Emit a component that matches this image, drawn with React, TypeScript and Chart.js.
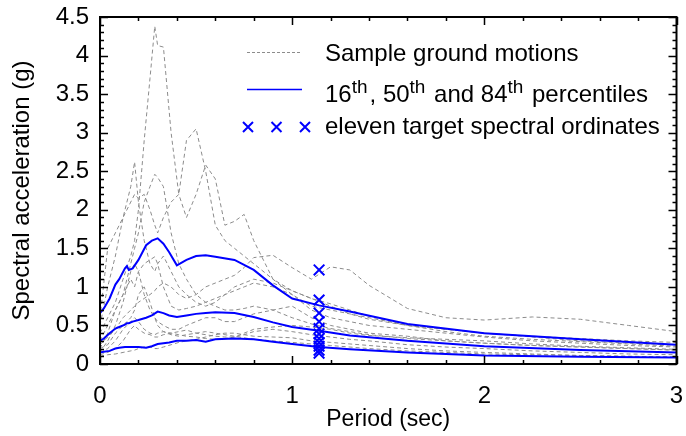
import { useEffect, useRef } from "react";
import { Chart, registerables } from "chart.js";

Chart.register(...registerables);

const FONT = "'Liberation Sans', Arial, Helvetica, sans-serif";

// Periods (sec) at which the sample ground-motion spectra are read
const PERIODS = [0, 0.04, 0.08, 0.12, 0.16, 0.18, 0.2, 0.23, 0.26, 0.285, 0.3, 0.33, 0.37, 0.41, 0.45, 0.5, 0.55, 0.6, 0.65, 0.7, 0.75, 0.8, 0.9, 1.0, 1.1, 1.2, 1.3, 1.4, 1.6, 1.8, 2.0, 2.25, 2.5, 2.75, 3.0];

// Sample ground motions (g)
const GM1 = [0.4, 0.6, 0.8, 1.1, 1.4, 1.6, 2.0, 2.9, 3.7, 4.38, 4.13, 4.11, 3.0, 2.2, 2.9, 3.05, 2.5, 1.8, 1.6, 1.5, 1.4, 1.3, 1.1, 0.9, 0.75, 0.7, 0.65, 0.6, 0.5, 0.42, 0.36, 0.32, 0.29, 0.26, 0.23];
const GM2 = [0.5, 1.0, 1.4, 1.9, 2.3, 2.62, 2.1, 1.6, 1.3, 1.2, 1.3, 1.4, 1.2, 1.0, 0.9, 0.8, 0.75, 0.8, 0.9, 1.0, 1.05, 1.1, 1.05, 0.95, 0.85, 0.75, 0.65, 0.58, 0.5, 0.45, 0.4, 0.35, 0.3, 0.27, 0.25];
const GM3 = [0.3, 0.5, 0.7, 0.9, 1.3, 1.5, 1.7, 2.1, 2.3, 2.46, 2.42, 2.3, 1.7, 1.3, 1.1, 0.9, 0.8, 0.75, 0.7, 0.7, 0.72, 0.75, 0.7, 0.6, 0.52, 0.46, 0.42, 0.38, 0.33, 0.3, 0.27, 0.24, 0.22, 0.2, 0.18];
const GM4 = [0.6, 1.5, 1.7, 1.9, 2.1, 2.2, 2.15, 2.2, 2.0, 1.8, 1.7, 1.9, 2.1, 2.2, 1.9, 2.2, 2.58, 2.4, 1.8, 1.85, 1.94, 1.6, 1.1, 0.95, 0.85, 0.78, 0.7, 0.62, 0.5, 0.45, 0.4, 0.36, 0.33, 0.3, 0.28];
const GM5 = [0.25, 0.35, 0.45, 0.6, 0.7, 0.75, 0.8, 0.85, 0.9, 0.95, 1.0, 1.05, 1.0, 0.9, 0.85, 0.9, 1.0, 1.05, 1.1, 1.15, 1.25, 1.38, 1.41, 1.25, 1.1, 1.26, 1.22, 1.02, 0.72, 0.6, 0.57, 0.61, 0.58, 0.5, 0.42];
const GM6 = [0.2, 0.4, 0.7, 0.9, 1.1, 1.0, 1.2, 1.3, 1.35, 1.39, 1.3, 1.0, 0.75, 0.7, 0.72, 0.75, 0.8, 0.85, 0.9, 0.95, 1.0, 1.05, 1.0, 0.9, 0.7, 0.6, 0.55, 0.5, 0.45, 0.4, 0.35, 0.3, 0.27, 0.24, 0.22];
const GM7 = [0.15, 0.3, 0.5, 0.8, 1.2, 1.3, 1.2, 0.9, 0.7, 0.6, 0.55, 0.5, 0.45, 0.45, 0.5, 0.55, 0.6, 0.6, 0.55, 0.55, 0.6, 0.65, 0.7, 0.75, 0.6, 0.5, 0.45, 0.4, 0.36, 0.3, 0.27, 0.24, 0.22, 0.2, 0.18];
const GM8 = [0.12, 0.15, 0.2, 0.3, 0.45, 0.5, 0.45, 0.4, 0.38, 0.35, 0.35, 0.38, 0.4, 0.42, 0.44, 0.4, 0.38, 0.36, 0.35, 0.35, 0.38, 0.42, 0.45, 0.42, 0.38, 0.35, 0.32, 0.3, 0.25, 0.22, 0.2, 0.17, 0.15, 0.13, 0.12];
const GM9 = [0.1, 0.12, 0.13, 0.15, 0.17, 0.18, 0.2, 0.22, 0.22, 0.2, 0.2, 0.22, 0.25, 0.28, 0.3, 0.32, 0.35, 0.38, 0.4, 0.4, 0.38, 0.36, 0.35, 0.34, 0.3, 0.28, 0.26, 0.24, 0.2, 0.17, 0.15, 0.13, 0.11, 0.1, 0.09];
const GM10 = [0.2, 0.25, 0.4, 0.5, 0.6, 0.7, 0.9, 1.0, 0.8, 0.6, 0.5, 0.42, 0.38, 0.36, 0.38, 0.4, 0.42, 0.4, 0.38, 0.36, 0.34, 0.32, 0.3, 0.28, 0.26, 0.24, 0.22, 0.2, 0.17, 0.15, 0.13, 0.12, 0.11, 0.1, 0.09];
const GM11 = [0.15, 0.2, 0.3, 0.45, 0.55, 0.6, 0.55, 0.45, 0.4, 0.38, 0.4, 0.42, 0.4, 0.38, 0.36, 0.35, 0.33, 0.32, 0.33, 0.35, 0.4, 0.45, 0.48, 0.5, 0.48, 0.45, 0.4, 0.37, 0.34, 0.32, 0.3, 0.26, 0.23, 0.21, 0.19];
const SAMPLE_MOTIONS = [GM1, GM2, GM3, GM4, GM5, GM6, GM7, GM8, GM9, GM10, GM11];

// Percentile spectra
const PCT_PERIODS = [0, 0.02, 0.05, 0.08, 0.1, 0.13, 0.14, 0.15, 0.17, 0.2, 0.24, 0.27, 0.3, 0.33, 0.36, 0.4, 0.45, 0.5, 0.55, 0.6, 0.7, 0.8, 0.9, 1.0, 1.14, 1.3, 1.6, 2.0, 2.5, 3.0];
const P84 = [0.66, 0.72, 0.85, 1.03, 1.1, 1.24, 1.27, 1.22, 1.24, 1.35, 1.54, 1.6, 1.63, 1.56, 1.45, 1.28, 1.35, 1.4, 1.41, 1.39, 1.35, 1.22, 1.02, 0.85, 0.76, 0.68, 0.52, 0.4, 0.32, 0.25];
const P50 = [0.3, 0.33, 0.4, 0.46, 0.48, 0.51, 0.53, 0.53, 0.55, 0.57, 0.6, 0.63, 0.68, 0.66, 0.63, 0.61, 0.63, 0.65, 0.66, 0.67, 0.66, 0.61, 0.54, 0.48, 0.43, 0.37, 0.3, 0.23, 0.18, 0.15];
const P16 = [0.15, 0.16, 0.17, 0.2, 0.21, 0.22, 0.22, 0.22, 0.22, 0.22, 0.21, 0.23, 0.26, 0.27, 0.28, 0.3, 0.3, 0.31, 0.29, 0.32, 0.33, 0.32, 0.29, 0.26, 0.22, 0.19, 0.15, 0.11, 0.095, 0.085];

// Eleven target spectral ordinates
const TARGET_PERIOD = 1.14;
const TARGET_SA = [1.22, 0.83, 0.66, 0.55, 0.46, 0.39, 0.33, 0.28, 0.23, 0.18, 0.14];

const X_TITLE = "Period (sec)";
const Y_TITLE = "Spectral acceleration (g)";

const LEGEND_ROW1 = "Sample ground motions";
const LEGEND_ROW2: [string, boolean][] = [["16", false], ["th", true], [", 50", false], ["th", true], [" and 84", false], ["th", true], [" percentiles", false]];
const LEGEND_ROW3 = "eleven target spectral ordinates";

const GREY = "#8c8c8c";
const BLUE = "#0000ff";
const FS = 24;

const framePlugin = {
  id: "frame",
  afterDraw(chart: any) {
    const { ctx, chartArea: a, scales } = chart;
    const xs = scales.x;
    const ys = scales.y;
    ctx.save();
    ctx.strokeStyle = "#000";
    ctx.lineWidth = 1.5;
    ctx.beginPath();
    for (let i = 0; i <= 15; i++) {
      const v = i * 0.2;
      const px = Math.round(xs.getPixelForValue(v)) + 0.5;
      const len = i % 5 === 0 ? 8 : 4;
      ctx.moveTo(px, a.bottom);
      ctx.lineTo(px, a.bottom - len);
      ctx.moveTo(px, a.top);
      ctx.lineTo(px, a.top + len);
    }
    for (let i = 0; i <= 45; i++) {
      const v = i * 0.1;
      const py = Math.round(ys.getPixelForValue(v)) + 0.5;
      const len = i % 5 === 0 ? 8 : 4;
      ctx.moveTo(a.left, py);
      ctx.lineTo(a.left + len, py);
      ctx.moveTo(a.right, py);
      ctx.lineTo(a.right - len, py);
    }
    ctx.stroke();
    ctx.lineWidth = 2;
    ctx.strokeRect(a.left, a.top, a.right - a.left, a.bottom - a.top);
    ctx.restore();
  },
};

const legendPlugin = {
  id: "customLegend",
  afterDraw(chart: any) {
    const { ctx } = chart;
    ctx.save();
    const x0 = 247;
    const x1 = 302;
    const tx = 325;
    ctx.strokeStyle = GREY;
    ctx.lineWidth = 1;
    ctx.setLineDash([3, 2]);
    ctx.beginPath();
    ctx.moveTo(x0, 52.5);
    ctx.lineTo(x1, 52.5);
    ctx.stroke();
    ctx.setLineDash([]);
    ctx.strokeStyle = BLUE;
    ctx.lineWidth = 1.5;
    ctx.beginPath();
    ctx.moveTo(x0, 89.5);
    ctx.lineTo(x1, 89.5);
    ctx.stroke();
    ctx.lineWidth = 2;
    for (const cx of [248, 276.5, 305]) {
      const r = 5;
      ctx.beginPath();
      ctx.moveTo(cx - r, 127 - r);
      ctx.lineTo(cx + r, 127 + r);
      ctx.moveTo(cx - r, 127 + r);
      ctx.lineTo(cx + r, 127 - r);
      ctx.stroke();
    }
    ctx.fillStyle = "#000";
    ctx.textBaseline = "alphabetic";
    ctx.textAlign = "left";
    ctx.font = `${FS}px ${FONT}`;
    ctx.fillText(LEGEND_ROW1, tx, 61);
    let cx = tx;
    for (const [t, sup] of LEGEND_ROW2) {
      ctx.font = sup ? `19px ${FONT}` : `${FS}px ${FONT}`;
      ctx.fillText(t, cx, sup ? 93 : 101.5);
      cx += ctx.measureText(t).width + (sup ? 2 : 0);
    }
    ctx.font = `${FS}px ${FONT}`;
    ctx.fillText(LEGEND_ROW3, tx, 133.5);
    ctx.restore();
  },
};

export default function App() {
  const ref = useRef<HTMLCanvasElement>(null);
  useEffect(() => {
    document.body.style.margin = "0";
    const toPts = (xs: number[], ys: number[]) => xs.map((x, i) => ({ x, y: ys[i] }));
    const datasets: any[] = [];
    datasets.push({
      data: TARGET_SA.map((y) => ({ x: TARGET_PERIOD, y })),
      showLine: false,
      pointStyle: "crossRot",
      pointRadius: 7.5,
      pointBorderWidth: 2,
      borderColor: BLUE,
      backgroundColor: BLUE,
      order: 0,
    });
    for (const p of [P16, P50, P84]) {
      datasets.push({
        data: toPts(PCT_PERIODS, p),
        showLine: true,
        borderColor: BLUE,
        borderWidth: 2,
        pointRadius: 0,
        order: 1,
      });
    }
    for (const gm of SAMPLE_MOTIONS) {
      datasets.push({
        data: toPts(PERIODS, gm),
        showLine: true,
        borderColor: GREY,
        borderWidth: 1,
        borderDash: [4, 3],
        pointRadius: 0,
        order: 2,
      });
    }
    const tickFmt = (v: any) => String(Math.round(Number(v) * 10) / 10);
    const chart = new Chart(ref.current as HTMLCanvasElement, {
      type: "scatter",
      data: { datasets },
      options: {
        animation: false,
        responsive: false,
        devicePixelRatio: 1,
        layout: { padding: { left: 0, right: 4, top: 17, bottom: 0 } },
        plugins: { legend: { display: false }, tooltip: { enabled: false } },
        scales: {
          x: {
            type: "linear",
            min: 0,
            max: 3,
            grid: { display: false, drawTicks: false },
            border: { display: false },
            ticks: { stepSize: 1, padding: 18, color: "#000", font: { family: FONT, size: FS }, callback: tickFmt },
            title: { display: true, text: X_TITLE, color: "#000", font: { family: FONT, size: 23 }, padding: { top: 0, bottom: 3 } },
            afterFit: (s: any) => {
              s.height = 72;
              s.paddingLeft = 0;
              s.paddingRight = 0;
            },
          },
          y: {
            type: "linear",
            min: 0,
            max: 4.5,
            grid: { display: false, drawTicks: false },
            border: { display: false },
            ticks: { stepSize: 0.5, padding: 11, color: "#000", font: { family: FONT, size: FS }, callback: tickFmt },
            title: { display: true, text: Y_TITLE, color: "#000", font: { family: FONT, size: FS }, padding: { top: 8, bottom: 0 } },
            afterFit: (s: any) => {
              s.width = 100;
              s.paddingTop = 0;
              s.paddingBottom = 0;
            },
          },
        },
      },
      plugins: [framePlugin, legendPlugin],
    });
    return () => chart.destroy();
  }, []);
  return (
    <div style={{ width: 686, height: 436 }}>
      <canvas ref={ref} width={686} height={436} style={{ display: "block" }} />
    </div>
  );
}
